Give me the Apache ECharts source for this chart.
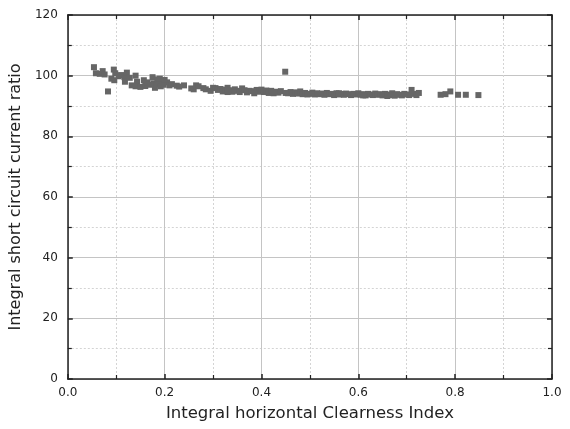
<!DOCTYPE html>
<html>
<head>
<meta charset="utf-8">
<script src="https://cdn.jsdelivr.net/npm/echarts@6/dist/echarts.min.js"></script>
<style>html,body{margin:0;padding:0;background:#fff;}#c{width:570px;height:429px;}</style>
</head>
<body>
<div id="c"></div>
<script>
// Clearness index (x) and short-circuit current ratio (y), one entry per measurement
const clearness = [
  0.054,0.058,0.066,0.072,0.076,0.083,0.095,0.098,0.096,0.105,0.110,0.117,0.122,0.118,0.128,
  0.140,0.143,0.140,0.150,0.160,0.157,0.165,0.175,0.178,0.180,0.185,0.188,0.190,0.192,0.195,
  0.198,0.205,0.210,0.215,0.225,0.240,0.255,0.260,0.265,0.270,0.285,0.295,0.300,0.305,0.310,
  0.315,0.320,0.325,0.330,0.335,0.340,0.345,0.350,0.355,0.360,0.365,0.370,0.375,0.380,0.390,
  0.395,0.400,0.405,0.410,0.415,0.420,0.425,0.430,0.435,0.440,0.449,0.455,0.460,0.465,0.470,
  0.475,0.480,0.485,0.490,0.500,0.505,0.510,0.515,0.520,0.525,0.530,0.535,0.540,0.545,0.550,
  0.555,0.560,0.565,0.570,0.575,0.580,0.585,0.590,0.595,0.600,0.605,0.610,0.615,0.620,0.625,
  0.630,0.635,0.640,0.645,0.650,0.655,0.660,0.665,0.670,0.675,0.680,0.685,0.690,0.695,0.700,
  0.705,0.710,0.715,0.720,0.725,0.770,0.780,0.790,0.806,0.822,0.848,0.090,0.132,0.170,0.200,
  0.230,0.280,0.330,0.385,0.450,0.495,0.560,0.610,0.660
];
const currentRatio = [
  102.8,100.8,100.6,101.5,100.4,94.8,102.0,100.8,98.5,99.8,100.2,99.5,101.0,98.0,99.3,
  100.0,98.0,96.5,96.3,96.6,98.5,97.8,99.5,97.5,96.0,98.8,97.2,99.0,96.5,98.2,
  97.0,97.8,96.8,97.2,96.7,96.8,95.8,95.5,96.8,96.5,95.5,95.0,96.0,95.9,95.3,
  95.6,94.8,95.4,96.0,95.2,94.7,95.5,95.0,94.6,95.8,95.2,94.5,95.0,94.9,95.3,
  94.7,95.4,94.6,95.1,94.3,95.0,94.2,94.7,94.4,94.9,101.3,94.2,94.6,94.0,94.5,
  94.1,94.8,93.9,94.3,94.0,94.4,93.8,94.2,93.9,94.1,93.7,94.3,93.9,94.0,93.6,
  94.2,93.8,94.0,93.7,94.1,93.9,93.6,94.0,93.8,94.2,93.7,93.9,93.5,94.0,93.8,
  93.6,94.1,93.7,93.9,93.5,94.0,93.8,93.6,94.2,93.4,93.9,93.7,93.5,94.0,93.8,
  93.6,95.3,94.0,93.6,94.3,93.7,93.9,94.8,93.7,93.7,93.6,99.0,96.8,97.0,98.6,
  96.4,95.9,94.6,94.2,94.3,93.8,94.2,93.5,93.3
];

const xTicks = { min: 0, max: 1, interval: 0.2 };
const yTicks = { min: 0, max: 120, interval: 20 };

const points = clearness.map((x, i) => [x, currentRatio[i]]);

const chart = echarts.init(document.getElementById('c'), null, { renderer: 'canvas' });
const font = '"DejaVu Sans", sans-serif';
const axisCommon = {
  axisLine: { show: true, onZero: false, lineStyle: { color: '#222', width: 1.5 } },
  axisTick: { show: true, inside: true, length: 5, lineStyle: { color: '#222', width: 1.5 } },
  minorTick: { show: true, splitNumber: 2, length: 4, lineStyle: { color: '#222', width: 1.2 } }
};
chart.setOption({
  animation: false,
  grid: { left: 67, right: 18, top: 15, bottom: 50, containLabel: false },
  xAxis: [
    Object.assign({
      type: 'value', min: xTicks.min, max: xTicks.max, interval: xTicks.interval,
      name: 'Integral horizontal Clearness Index', nameLocation: 'middle', nameGap: 26,
      nameTextStyle: { fontFamily: font, fontSize: 16.5, color: '#222' },
      axisLabel: { fontFamily: font, fontSize: 12, color: '#222', margin: 8,
        formatter: v => v.toFixed(1) },
      splitLine: { show: true, lineStyle: { color: '#c4c4c4', width: 1 } },
      minorSplitLine: { show: true, lineStyle: { color: '#d4d4d4', type: [2, 2], width: 1 } }
    }, axisCommon),
    Object.assign({
      type: 'value', position: 'top', min: xTicks.min, max: xTicks.max, interval: xTicks.interval,
      axisLabel: { show: false }, splitLine: { show: false }
    }, axisCommon)
  ],
  yAxis: [
    Object.assign({
      type: 'value', min: yTicks.min, max: yTicks.max, interval: yTicks.interval,
      name: 'Integral short circuit current ratio', nameLocation: 'middle', nameGap: 40,
      nameTextStyle: { fontFamily: font, fontSize: 16, color: '#222' },
      axisLabel: { fontFamily: font, fontSize: 12, color: '#222', margin: 10 },
      splitLine: { show: true, lineStyle: { color: '#c4c4c4', width: 1 } },
      minorSplitLine: { show: true, lineStyle: { color: '#d4d4d4', type: [2, 2], width: 1 } }
    }, axisCommon),
    Object.assign({
      type: 'value', position: 'right', min: yTicks.min, max: yTicks.max, interval: yTicks.interval,
      axisLabel: { show: false }, splitLine: { show: false }
    }, axisCommon)
  ],
  series: [{
    type: 'scatter',
    data: points,
    symbol: 'rect',
    symbolSize: 6,
    itemStyle: { color: '#666666', opacity: 1 }
  }]
});
</script>
</body>
</html>
